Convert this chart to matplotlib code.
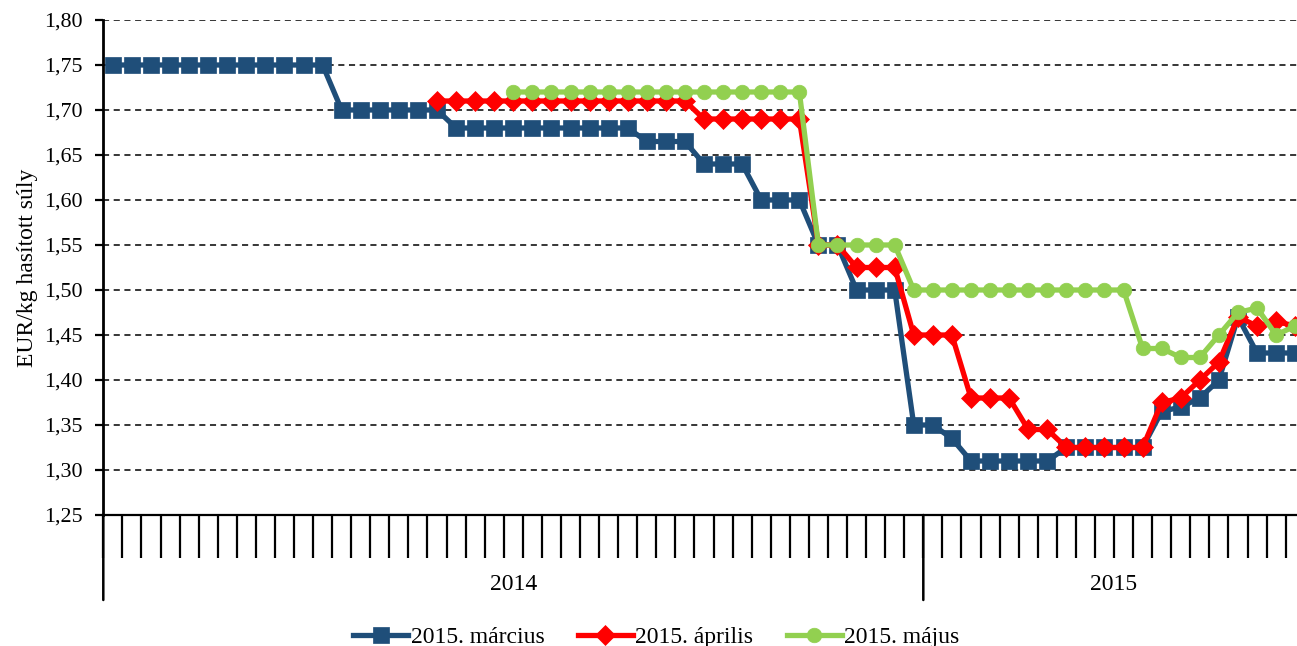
import numpy as np
import matplotlib
matplotlib.use("Agg")
import matplotlib.pyplot as plt
import matplotlib.transforms as mtransforms
from matplotlib.ticker import FuncFormatter, MultipleLocator

plt.rcParams['font.family'] = ['Liberation Serif', 'DejaVu Serif']

nan = np.nan
# weekly values, 2014 week 10 .. 2015 week 20 (63 weeks)
marcius = ([1.75] * 12 + [1.70] * 6 + [1.68] * 10 + [1.665] * 3 + [1.64] * 3 + [1.60] * 3 +
           [1.55] * 2 + [1.50] * 3 + [1.35] * 2 + [1.335] + [1.31] * 5 + [1.325] * 5 +
           [1.365, 1.37, 1.38, 1.40, 1.47, 1.43, 1.43, 1.43])
aprilis = ([nan] * 17 + [1.71] * 14 + [1.69] * 6 + [1.55] * 2 + [1.525] * 3 + [1.45] * 3 +
           [1.38] * 3 + [1.345] * 2 + [1.325] * 5 +
           [1.375, 1.38, 1.40, 1.42, 1.47, 1.46, 1.465, 1.46])
majus = ([nan] * 21 + [1.72] * 16 + [1.55] * 5 + [1.50] * 12 +
         [1.435, 1.435, 1.425, 1.425, 1.45, 1.475, 1.48, 1.45, 1.46])
series_names = ["2015. március", "2015. április", "2015. május"]
years = ["2014", "2015"]
weeks_per_year = [43, 20]
ylabel = "EUR/kg hasított súly"

W, H = 1297, 646
fig = plt.figure(figsize=(W / 100, H / 100), dpi=100)
left = 103.3 / W
right_px = 103.3 + 19.07 * 63
ax = fig.add_axes([left, 1 - 515 / H, (right_px - 103.3) / W, (515 - 20) / H])

x = np.arange(len(marcius)) + 0.5
ax.plot(x, marcius, color='#1F4E79', lw=3.8, marker='s', ms=11, mec='#1F4E79', mew=0.5,
        label=series_names[0], zorder=3, clip_on=False)
ax.plot(x, aprilis, color='#FF0000', lw=3.8, marker='D', ms=10, mec='#FF0000', mew=0.5,
        label=series_names[1], zorder=4, clip_on=False)
ax.plot(x, majus, color='#92D050', lw=3.8, marker='o', ms=10.5, mec='#92D050', mew=0.5,
        label=series_names[2], zorder=5, clip_on=False)

ax.set_xlim(0, len(marcius))
ax.set_ylim(1.25, 1.80)
ax.yaxis.set_major_locator(MultipleLocator(0.05))
ax.yaxis.set_major_formatter(FuncFormatter(lambda v, p: f"{v:.2f}".replace('.', ',')))
ax.grid(axis='y', linestyle=(0, (4, 3)), color='black', lw=1.1)
ax.set_axisbelow(True)
ax.set_xticks(np.arange(0, len(marcius) + 1))
ax.set_xticklabels([])
ax.tick_params(axis='x', direction='out', length=31, width=1.6, color='black')
ax.tick_params(axis='y', direction='out', length=6, width=1.6, labelsize=15.8, pad=9)
for s in ['top', 'right']:
    ax.spines[s].set_visible(False)
ax.spines['left'].set_linewidth(2)
ax.spines['bottom'].set_linewidth(1.6)

ax.set_ylabel(ylabel, fontsize=17, labelpad=4)

# year separators and labels
trans = mtransforms.blended_transform_factory(ax.transData, ax.transAxes)
bounds = [0]
for n in weeks_per_year:
    bounds.append(bounds[-1] + n)
for b in bounds:
    ax.annotate('', xy=(b, 0), xycoords=trans, xytext=(b, -85), textcoords=('data', 'offset pixels'),
                arrowprops=dict(arrowstyle='-', color='black', lw=1.8, shrinkA=0, shrinkB=0))
for i, yr in enumerate(years):
    c = (bounds[i] + bounds[i + 1]) / 2
    ax.annotate(yr, xy=(c, 0), xycoords=trans, xytext=(0, -70), textcoords='offset pixels',
                ha='center', va='center', fontsize=17)

fig.legend(loc='lower center', bbox_to_anchor=(0.506, -0.036), ncol=3, frameon=False,
           fontsize=17, handlelength=2.35, columnspacing=1.4, handletextpad=0.1)

fig.savefig("out.png", dpi=100)
